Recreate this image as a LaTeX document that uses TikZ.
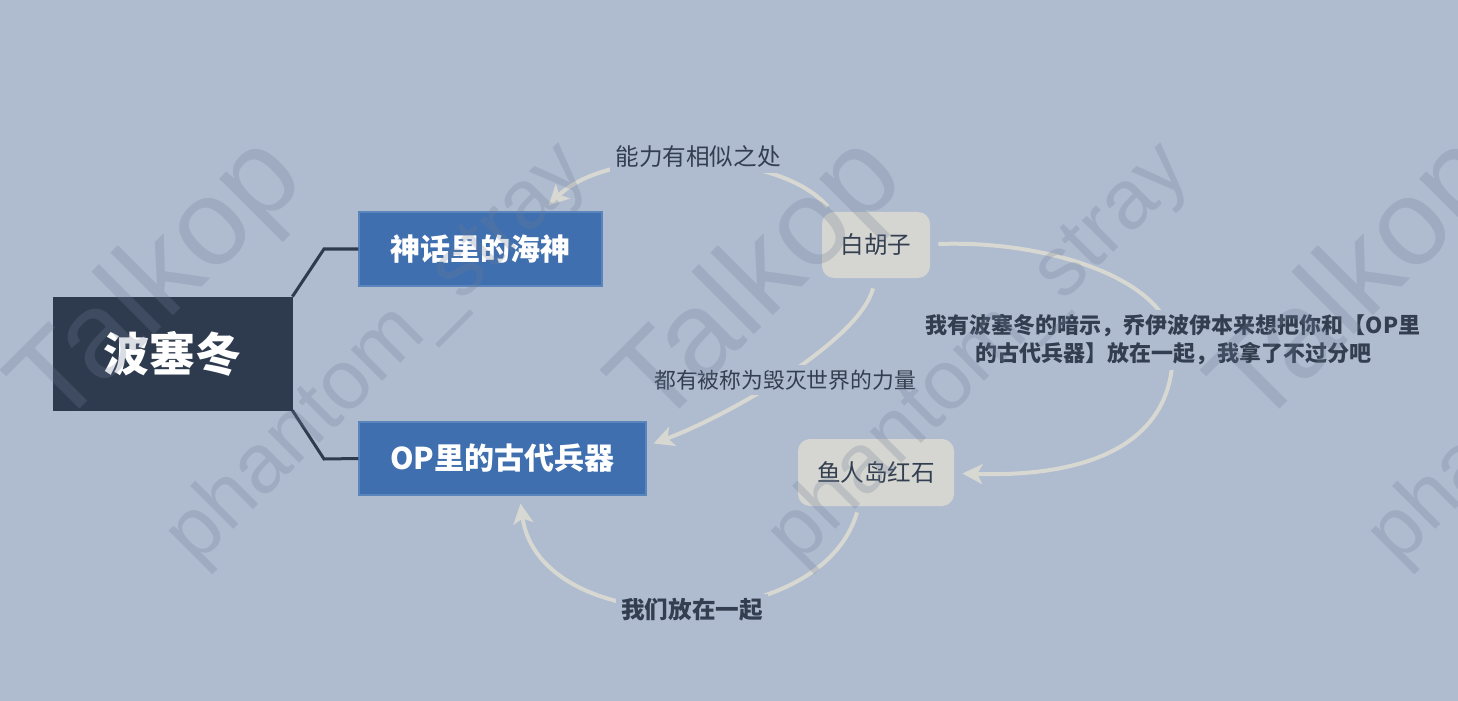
\documentclass[tikz,border=0pt]{standalone}
\usepackage{fontspec}
\newfontfamily\cjk{Noto Sans CJK SC}
\newfontfamily\wmfont{Liberation Sans}
\usetikzlibrary{arrows.meta,calc}
\definecolor{bgc}{HTML}{AFBBCF}
\definecolor{rootc}{HTML}{2E3B4E}
\definecolor{bluec}{HTML}{3F6FAE}
\definecolor{blueedge}{HTML}{5A84BC}
\definecolor{greyc}{HTML}{D5D6D1}
\definecolor{arcc}{HTML}{D8D8D2}
\definecolor{txtc}{HTML}{333F50}
\definecolor{wmc}{HTML}{6E7D96}
\begin{document}
\begin{tikzpicture}[x=0.5pt,y=-0.5pt,
  rootbox/.style={fill=rootc, draw=rootc, minimum width=119.5pt, minimum height=56.5pt, inner sep=0pt, text=white, font=\cjk\bfseries\fontsize{23}{28}\selectfont},
  bluebox/.style={fill=bluec, draw=blueedge, line width=0.6pt, inner sep=0pt, minimum height=37pt, text=white, font=\cjk\bfseries\fontsize{15}{18}\selectfont},
  greybox/.style={fill=greyc, rounded corners=6pt, inner sep=0pt, minimum height=33pt, text=txtc, font=\cjk\fontsize{11.8}{14}\selectfont},
  lab/.style={fill=bgc, text=txtc, inner sep=2.5pt, font=\cjk\fontsize{11.8}{14}\selectfont},
  boldlab/.style={lab, font=\cjk\bfseries\fontsize{11}{14}\selectfont, align=center},
  branch/.style={draw=rootc, line width=1.5pt},
  arc/.style={draw=arcc, line width=2pt, -{Stealth[length=10pt,width=10pt,inset=2.5pt]}},
  wmbig/.style={text=wmc, opacity=0.25, rotate=45, inner sep=0pt, font=\wmfont\fontsize{61}{61}\selectfont},
  wmsmall/.style={text=wmc, opacity=0.25, rotate=45, inner sep=0pt, font=\wmfont\fontsize{42}{42}\selectfont}
]
\useasboundingbox (0,0) rectangle (1458,701);
\clip (0,0) rectangle (1458,701);
\fill[bgc] (0,0) rectangle (1458,701);

% main nodes
\node[rootbox] (root) at (172.5,353.5) {波塞冬};
\node[bluebox, minimum width=121.5pt] (shs) at (480.5,249) {神话里的海神};
\node[bluebox, minimum width=143.5pt, minimum height=36.5pt] (op) at (502.5,458.5) {OP里的古代兵器};
\node[greybox, minimum width=54pt] (bhz) at (876,245) {白胡子};
\node[greybox, minimum width=78pt, minimum height=33.5pt] (yrd) at (876,472.5) {鱼人岛红石};

% branches
\draw[branch] (root.north east) -- (324,249) -- (shs.west);
\draw[branch] (root.south east) -- (324,459) -- (op.west);

% curved relations
\draw[arc] ($(bhz.north west)+(6,-5)$) .. controls (780,150) and (610,145) .. ($(shs.north east)+(-54,-6)$);
\draw[arc] ($(bhz.south)+(-3,10)$) .. controls (860,340) and (730,415) .. ($(op.east)+(7,-15)$);
\draw[arc] ($(bhz.east)+(8,-1)$) .. controls (1050,240) and (1165,280) .. (1172,340)
   .. controls (1180,430) and (1110,478) .. ($(yrd.east)+(8,1)$);
\draw[arc] ($(yrd.south)+(-19,6)$) .. controls (820,640) and (540,640) .. ($(op.south)+(18,8)$);

% labels
\node[lab] (l1) at (698,157) {能力有相似之处};
\node[lab, font=\cjk\fontsize{10.9}{14}\selectfont] (l2) at (785,380) {都有被称为毁灭世界的力量};
\node[boldlab] (l3) at (1173,340) {我有波塞冬的暗示，乔伊波伊本来想把你和【OP里\\的古代兵器】放在一起，我拿了不过分吧};
\node[lab, font=\cjk\bfseries\fontsize{11.8}{14}\selectfont] (l4) at (692,610) {我们放在一起};

% watermarks
\foreach \i/\cx in {1/160,2/760,3/1360}{
  \node[wmbig] (wa\i) at (\cx,285) {Talkop};
}
\foreach \i/\cx in {1/378,2/980,3/1580}{
  \node[wmsmall] (wb\i) at (\cx,355) {phantom\_stray};
}
\end{tikzpicture}
\end{document}
